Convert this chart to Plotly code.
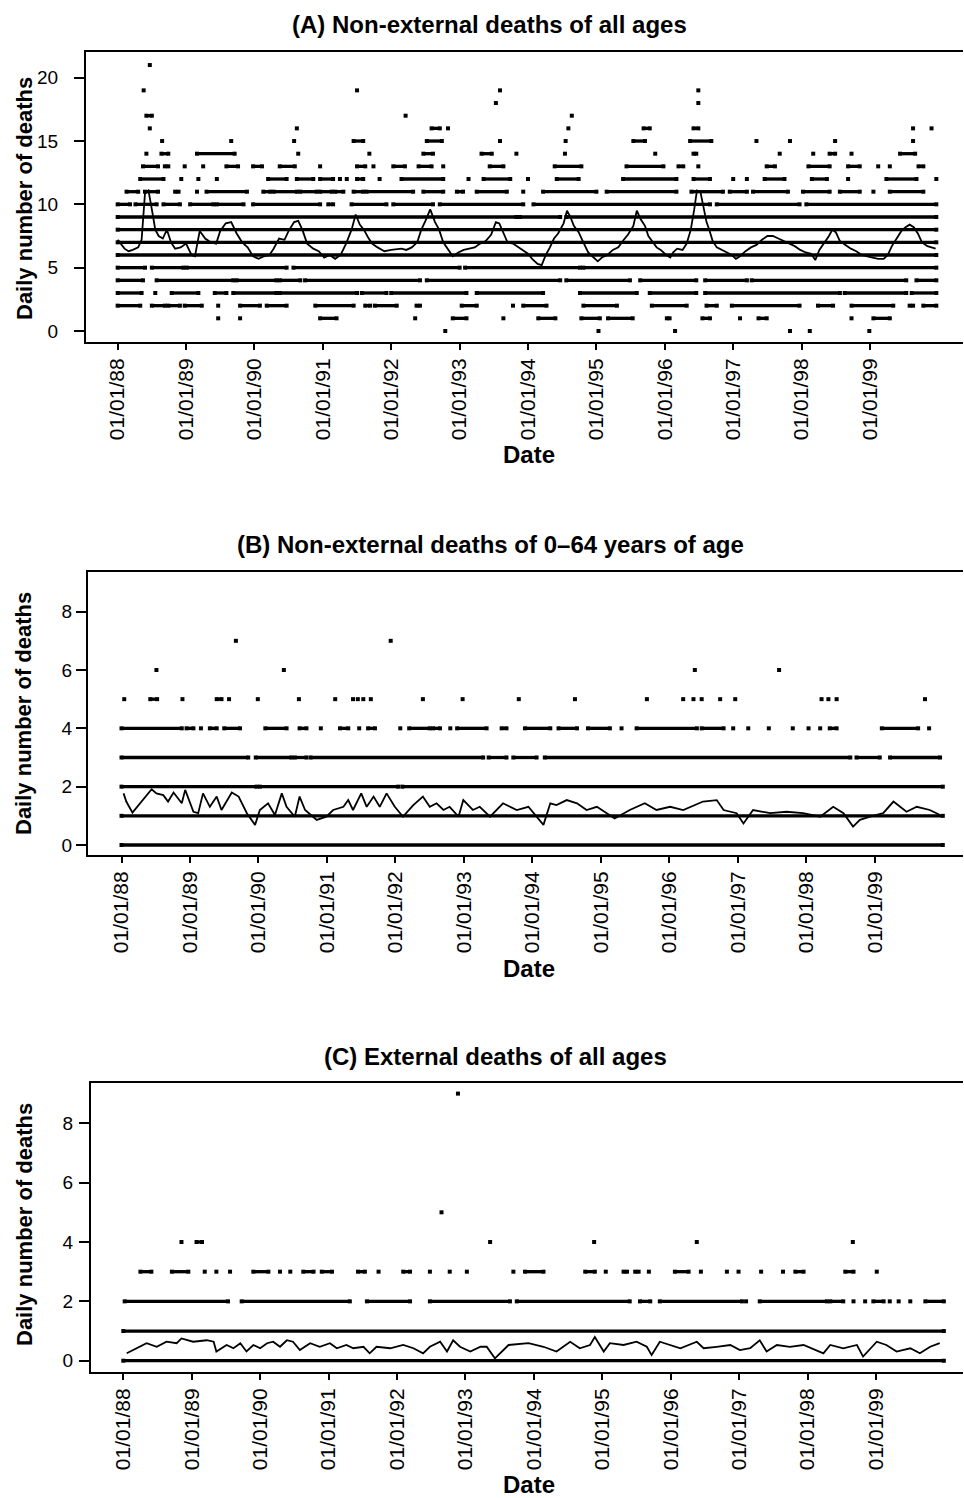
import plotly.graph_objects as go

W, H = 964, 1498

# ---------------- x axis (decimal years) ----------------
YEARS = [1988, 1989, 1990, 1991, 1992, 1993, 1994, 1995, 1996, 1997, 1998, 1999]
YEAR_LABELS = ["01/01/88", "01/01/89", "01/01/90", "01/01/91", "01/01/92", "01/01/93",
               "01/01/94", "01/01/95", "01/01/96", "01/01/97", "01/01/98", "01/01/99"]

# ---------------- Panel A: daily counts (runs of days (start,end) or single days) ----------------
A_0 = [1992.79, 1995.03, 1996.15, 1997.83, 1998.12, 1998.99]
A_1 = [1989.47, 1989.79, (1990.96, 1991.20), 1992.35, (1992.90, 1993.10), 1993.64, (1994.15, 1994.40),
       (1994.78, 1995.05), (1995.17, 1995.53), (1996.03, 1996.07), (1996.55, 1996.66), 1997.10,
       (1997.37, 1997.49), 1998.73, (1999.05, 1999.29)]
A_2 = [(1988.00, 1988.33), (1988.50, 1988.69), (1988.74, 1988.91), (1988.98, 1989.23), 1989.47,
       (1989.79, 1990.08), (1990.18, 1990.47), (1990.89, 1991.45), (1991.62, 1991.69), (1991.76, 1992.08),
       (1992.37, 1992.42), (1993.03, 1993.25), 1993.78, (1993.93, 1994.27), (1994.81, 1995.30),
       (1995.81, 1996.32), (1996.61, 1996.76), (1996.98, 1997.97), (1998.24, 1998.46), (1998.73, 1999.34),
       (1999.58, 1999.63), (1999.78, 1999.97)]
A_3 = [(1988.00, 1988.35), 1988.55, (1988.79, 1989.18), (1989.42, 1989.59), (1989.69, 1990.32),
       (1990.37, 1991.50), (1991.57, 1991.93), (1992.00, 1993.10), (1993.25, 1994.22), (1994.76, 1995.59),
       (1995.78, 1996.46), (1996.59, 1998.56), (1998.63, 1999.53), (1999.61, 1999.97)]
A_4 = [(1988.00, 1988.37), (1988.57, 1989.69), (1989.74, 1990.32), (1990.37, 1990.67), (1990.74, 1992.42),
       (1992.52, 1994.47), (1994.56, 1995.49), (1995.64, 1996.46), (1996.59, 1997.20), (1997.27, 1999.53),
       (1999.68, 1999.97)]
A_5 = [(1988.00, 1988.40), (1988.50, 1988.96), (1989.01, 1990.47), (1990.57, 1993.00), (1993.08, 1994.76),
       (1994.81, 1999.97)]
A_6 = [(1988.00, 1999.97)]
A_7 = [(1988.00, 1999.97)]
A_8 = [(1988.00, 1999.97)]
A_9 = [(1988.00, 1993.83), (1993.88, 1994.47), (1994.56, 1999.97)]
A_10 = [(1988.00, 1988.18), (1988.26, 1988.57), (1988.67, 1988.91), (1989.06, 1989.40), (1989.45, 1989.84),
        (1989.98, 1990.96), (1991.08, 1991.15), (1991.42, 1991.93), (1992.03, 1992.61), (1992.71, 1993.93),
        (1994.08, 1996.66), (1996.76, 1997.97), (1998.07, 1999.97)]
A_11 = [(1988.13, 1988.30), (1988.40, 1988.59), (1988.84, 1988.89), 1989.16, (1989.30, 1989.89),
        (1990.13, 1990.23), (1990.28, 1990.62), (1990.67, 1990.91), (1990.96, 1991.13), (1991.18, 1991.30),
        (1991.45, 1991.59), (1991.64, 1992.32), (1992.47, 1992.76), (1992.96, 1993.05), (1993.25, 1993.69),
        1993.93, (1994.22, 1995.00), (1995.15, 1996.17), (1996.39, 1996.85), (1996.95, 1997.20),
        (1997.29, 1997.80), (1998.02, 1998.41), (1998.56, 1998.85), 1999.05, (1999.29, 1999.78)]
A_12 = [(1988.33, 1988.67), 1988.93, 1989.18, 1989.45, (1990.20, 1990.47), (1990.62, 1990.86),
        (1990.96, 1991.15), 1991.25, 1991.35, (1991.50, 1991.59), 1991.83, (1992.15, 1992.76), 1993.13,
        (1993.35, 1993.74), 1994.00, (1994.42, 1994.74), (1995.39, 1996.17), (1996.42, 1996.66), 1997.00,
        1997.20, (1997.46, 1997.75), (1998.15, 1998.37), 1998.68, (1999.24, 1999.68), 1999.97]
A_13 = [(1988.37, 1988.59), (1988.69, 1988.74), 1988.98, 1989.25, (1989.59, 1989.76), (1989.98, 1990.11),
        (1990.37, 1990.59), 1990.96, (1991.50, 1991.62), 1991.74, (1992.03, 1992.20), (1992.40, 1992.59),
        1992.76, (1993.44, 1993.64), (1994.39, 1994.78), (1995.44, 1995.98), (1996.20, 1996.27), 1996.49,
        (1997.49, 1997.61), (1998.10, 1998.41), (1998.68, 1998.85), 1999.12, 1999.29, (1999.71, 1999.78)]
A_14 = [1988.42, (1988.64, 1988.74), (1989.16, 1989.71), 1990.64, 1991.68, (1992.47, 1992.61),
        (1993.32, 1993.47), 1993.83, 1994.54, 1995.86, (1996.42, 1996.46), 1997.68, 1998.17,
        (1998.41, 1998.49), 1998.73, (1999.44, 1999.66)]
A_15 = [1988.65, 1989.66, 1990.58, (1991.45, 1991.59), (1992.52, 1992.74), 1993.59, 1994.55,
        (1995.54, 1995.71), (1996.37, 1996.68), 1997.34, 1997.83, 1998.49, 1999.63]
A_16 = [1988.47, 1990.62, (1992.59, 1992.71), 1992.83, 1994.59, (1995.69, 1995.78), (1996.42, 1996.49),
        1999.63, 1999.90]
A_17 = [(1988.42, 1988.50), 1992.21, 1994.64]
A_18 = [1993.53, 1996.49]
A_19 = [1988.38, 1991.50, 1993.59, 1996.49]
A_21 = [1988.47]

# Panel A moving average (rows = years)
A_MA_T = [1988.00, 1988.10, 1988.16, 1988.22, 1988.30, 1988.35, 1988.40, 1988.45, 1988.50, 1988.55, 1988.60, 1988.66, 1988.72, 1988.78, 1988.84, 1988.92,
          1989.00, 1989.08, 1989.13, 1989.20, 1989.28, 1989.36, 1989.44, 1989.50, 1989.58, 1989.66, 1989.74, 1989.82, 1989.90, 1989.98,
          1990.06, 1990.14, 1990.22, 1990.28, 1990.36, 1990.44, 1990.50, 1990.58, 1990.64, 1990.70, 1990.77, 1990.86, 1990.94,
          1991.02, 1991.10, 1991.18, 1991.26, 1991.34, 1991.42, 1991.48, 1991.54, 1991.60, 1991.66, 1991.72, 1991.80, 1991.90,
          1992.00, 1992.10, 1992.15, 1992.22, 1992.30, 1992.38, 1992.44, 1992.50, 1992.57, 1992.64, 1992.70, 1992.76, 1992.82, 1992.90, 1992.98,
          1993.06, 1993.14, 1993.22, 1993.30, 1993.38, 1993.46, 1993.53, 1993.58, 1993.64, 1993.70, 1993.78, 1993.86, 1993.94,
          1994.00, 1994.06, 1994.14, 1994.20, 1994.26, 1994.32, 1994.38, 1994.44, 1994.52, 1994.57, 1994.62, 1994.67, 1994.74, 1994.80, 1994.88, 1994.94,
          1995.02, 1995.08, 1995.16, 1995.24, 1995.32, 1995.40, 1995.46, 1995.54, 1995.59, 1995.65, 1995.71, 1995.76, 1995.82, 1995.88, 1995.94,
          1996.02, 1996.08, 1996.12, 1996.18, 1996.26, 1996.32, 1996.38, 1996.43, 1996.47, 1996.52, 1996.57, 1996.61, 1996.65, 1996.70, 1996.76, 1996.84, 1996.92, 1996.98,
          1997.04, 1997.10, 1997.18, 1997.26, 1997.34, 1997.42, 1997.50, 1997.58, 1997.66, 1997.74, 1997.82, 1997.90, 1997.98,
          1998.06, 1998.14, 1998.20, 1998.26, 1998.34, 1998.40, 1998.45, 1998.50, 1998.56, 1998.64, 1998.72, 1998.80, 1998.88, 1998.96,
          1999.04, 1999.12, 1999.20, 1999.26, 1999.32, 1999.38, 1999.46, 1999.52, 1999.58, 1999.64, 1999.70, 1999.76, 1999.84, 1999.90, 1999.96]
A_MA_V = [7.2, 6.5, 6.3, 6.4, 6.6, 7.2, 10.9, 11.1, 9.6, 8.0, 7.5, 7.3, 8.0, 7.0, 6.5, 6.6,
          6.9, 6.0, 5.9, 7.9, 7.3, 7.0, 6.9, 7.9, 8.5, 8.6, 7.7, 7.0, 6.6, 5.9,
          5.7, 5.9, 6.0, 6.5, 7.3, 7.2, 7.9, 8.6, 8.7, 8.0, 6.9, 6.5, 6.3,
          5.8, 6.0, 5.7, 6.0, 6.9, 8.0, 9.2, 8.4, 8.0, 7.4, 6.9, 6.6, 6.3,
          6.4, 6.5, 6.5, 6.4, 6.6, 7.0, 8.0, 8.7, 9.6, 8.6, 8.0, 7.0, 6.5, 5.9, 6.2,
          6.4, 6.5, 6.6, 6.9, 7.1, 7.6, 8.6, 8.5, 7.7, 7.0, 6.9, 6.6, 6.3,
          6.1, 5.7, 5.3, 5.2, 6.0, 6.6, 7.3, 7.7, 8.5, 9.5, 9.0, 8.3, 7.8, 7.1, 6.2, 5.9,
          5.5, 5.8, 6.0, 6.4, 6.6, 7.2, 7.6, 8.3, 9.5, 8.8, 8.3, 7.5, 7.0, 6.6, 6.4,
          6.0, 5.8, 6.2, 6.5, 6.4, 6.9, 8.0, 9.6, 11.1, 11.0, 9.5, 8.6, 8.0, 7.1, 6.6, 6.4, 6.2, 6.0,
          5.7, 5.9, 6.3, 6.6, 6.8, 7.2, 7.5, 7.5, 7.3, 7.1, 6.9, 6.7, 6.4,
          6.2, 6.1, 5.6, 6.4, 7.0, 7.5, 8.0, 7.8, 7.1, 6.8, 6.5, 6.3, 6.0, 5.9,
          5.8, 5.7, 5.7, 6.0, 6.7, 7.2, 7.9, 8.2, 8.4, 8.2, 7.7, 7.0, 6.7, 6.6, 6.5]

# ---------------- Panel B ----------------
B_0 = [(1988.00, 1999.99)]
B_1 = [(1988.00, 1999.99)]
B_2 = [(1988.00, 1989.97), (1990.02, 1992.04), (1992.10, 1999.99)]
B_3 = [(1988.00, 1989.85), (1989.96, 1990.48), (1990.53, 1990.70), (1990.76, 1993.28), (1993.36, 1993.62),
       (1993.72, 1994.06), (1994.18, 1998.64), (1998.73, 1999.07), (1999.22, 1999.95)]
B_4 = [(1988.00, 1988.88), (1988.95, 1989.05), 1989.16, (1989.29, 1989.39), (1989.50, 1989.73),
       (1990.10, 1990.41), (1990.60, 1990.70), 1990.91, (1991.19, 1991.31), 1991.47, (1991.60, 1991.70),
       1992.07, (1992.20, 1992.50), (1992.55, 1992.65), 1992.80, (1992.90, 1993.33), (1993.55, 1993.62),
       (1993.89, 1994.26), (1994.38, 1994.65), (1994.81, 1995.13), 1995.30, (1995.52, 1996.40),
       (1996.47, 1996.79), 1996.93, 1997.15, 1997.45, 1997.80, 1998.03, 1998.20, (1998.34, 1998.44),
       (1999.10, 1999.63), 1999.79]
B_5 = [1988.04, (1988.42, 1988.52), 1988.89, (1989.39, 1989.46), 1989.57, 1989.99, 1990.59, 1991.12,
       1991.38, 1991.45, 1991.53, 1991.64, 1992.40, 1992.98, 1993.80, 1994.62, 1995.67, 1996.20, 1996.35,
       1996.47, 1996.74, 1996.96, 1998.22, 1998.32, 1998.44, 1999.73]
B_6 = [1988.51, 1990.37, 1996.37, 1997.60]
B_7 = [1989.67, 1991.93]

B_MA_T = [1988.03, 1988.07, 1988.16, 1988.44, 1988.51, 1988.61, 1988.68, 1988.76, 1988.88, 1988.93,
          1989.05, 1989.12, 1989.19, 1989.29, 1989.39, 1989.46, 1989.61, 1989.71, 1989.83, 1989.95,
          1990.02, 1990.14, 1990.24, 1990.34, 1990.41, 1990.53, 1990.60, 1990.68, 1990.85, 1990.99,
          1991.09, 1991.24, 1991.31, 1991.38, 1991.50, 1991.58, 1991.68, 1991.77, 1991.87, 1991.99,
          1992.11, 1992.26, 1992.40, 1992.50, 1992.60, 1992.70, 1992.79, 1992.92, 1992.99,
          1993.13, 1993.23, 1993.38, 1993.57, 1993.77, 1993.94,
          1994.16, 1994.26, 1994.35, 1994.50, 1994.65, 1994.79, 1994.94,
          1995.20, 1995.42, 1995.64, 1995.81,
          1996.01, 1996.20, 1996.49, 1996.69, 1996.79, 1996.98,
          1997.08, 1997.22, 1997.47, 1997.71, 1997.95,
          1998.20, 1998.39, 1998.54, 1998.68, 1998.78, 1998.93,
          1999.12, 1999.27, 1999.37, 1999.46, 1999.61, 1999.80, 1999.95]
B_MA_V = [1.77, 1.49, 1.11, 1.91, 1.77, 1.71, 1.49, 1.80, 1.43, 1.89,
          1.14, 1.09, 1.77, 1.31, 1.66, 1.20, 1.80, 1.66, 1.09, 0.69,
          1.20, 1.43, 1.03, 1.77, 1.31, 0.97, 1.66, 1.20, 0.86, 0.97,
          1.20, 1.31, 1.54, 1.20, 1.77, 1.31, 1.66, 1.31, 1.77, 1.31,
          0.97, 1.37, 1.66, 1.31, 1.43, 1.20, 1.31, 0.97, 1.54,
          1.20, 1.31, 0.97, 1.43, 1.20, 1.31,
          0.69, 1.43, 1.37, 1.54, 1.43, 1.20, 1.31,
          0.91, 1.20, 1.43, 1.20,
          1.31, 1.20, 1.49, 1.54, 1.20, 1.09,
          0.74, 1.20, 1.09, 1.14, 1.09,
          0.97, 1.31, 1.09, 0.63, 0.86, 0.97,
          1.09, 1.49, 1.31, 1.14, 1.31, 1.20, 1.03]

# ---------------- Panel C ----------------
C_0 = [(1988.00, 1999.99)]
C_1 = [(1988.00, 1999.99)]
C_2 = [(1988.02, 1989.53), (1989.73, 1991.31), (1991.56, 1992.19), (1992.48, 1993.65), (1993.75, 1995.40),
       (1995.55, 1995.70), (1995.84, 1997.04), 1997.10, (1997.30, 1998.28), (1998.33, 1998.52), 1998.67,
       1998.84, (1998.96, 1999.11), 1999.20, 1999.33, 1999.50, (1999.72, 1999.99)]
C_3 = [(1988.25, 1988.41), (1988.71, 1988.95), 1989.19, 1989.36, 1989.56, (1989.90, 1990.12), 1990.29,
       1990.44, (1990.63, 1990.78), (1990.90, 1991.05), (1991.43, 1991.53), 1991.73, (1992.09, 1992.19),
       1992.48, 1992.77, 1993.02, 1993.70, (1993.87, 1994.14), (1994.75, 1994.89), 1995.05,
       (1995.31, 1995.36), (1995.48, 1995.53), 1995.68, (1996.06, 1996.26), 1996.44, 1996.82, 1996.99,
       1997.32, 1997.64, (1997.82, 1997.94), (1998.55, 1998.67), 1999.01]
C_4 = [1988.85, (1989.07, 1989.15), 1993.36, 1994.88, 1996.38, 1998.66]
C_5 = [1992.65]
C_9 = [1992.89]

C_MA_T = [1988.05, 1988.20, 1988.34, 1988.49, 1988.63, 1988.78, 1988.85,
          1989.02, 1989.22, 1989.32, 1989.36, 1989.51, 1989.61, 1989.71, 1989.80, 1989.90,
          1990.00, 1990.10, 1990.19, 1990.29, 1990.39, 1990.48, 1990.58, 1990.73, 1990.87,
          1991.02, 1991.12, 1991.26, 1991.36, 1991.51, 1991.60, 1991.70, 1991.90,
          1992.09, 1992.24, 1992.38, 1992.48, 1992.63, 1992.73, 1992.82, 1992.92,
          1993.07, 1993.22, 1993.31, 1993.43, 1993.63, 1993.92,
          1994.14, 1994.33, 1994.53, 1994.67, 1994.82, 1994.89,
          1995.02, 1995.11, 1995.31, 1995.50, 1995.65, 1995.72, 1995.84, 1995.99,
          1996.14, 1996.38, 1996.48, 1996.67, 1996.87,
          1997.01, 1997.16, 1997.30, 1997.40, 1997.55, 1997.74, 1997.94,
          1998.13, 1998.23, 1998.33, 1998.52, 1998.72, 1998.81,
          1999.01, 1999.15, 1999.30, 1999.50, 1999.64, 1999.79, 1999.93]
C_MA_V = [0.25, 0.42, 0.59, 0.47, 0.64, 0.59, 0.75,
          0.64, 0.69, 0.64, 0.31, 0.53, 0.42, 0.59, 0.31, 0.53,
          0.42, 0.59, 0.64, 0.47, 0.69, 0.64, 0.36, 0.59, 0.47,
          0.59, 0.42, 0.53, 0.42, 0.47, 0.25, 0.47, 0.42,
          0.53, 0.42, 0.25, 0.47, 0.64, 0.31, 0.69, 0.47,
          0.31, 0.47, 0.47, 0.08, 0.53, 0.59,
          0.47, 0.31, 0.64, 0.42, 0.53, 0.80,
          0.31, 0.59, 0.53, 0.64, 0.47, 0.19, 0.64, 0.53,
          0.42, 0.64, 0.42, 0.47, 0.53,
          0.36, 0.42, 0.69, 0.31, 0.53, 0.47, 0.53,
          0.36, 0.25, 0.53, 0.42, 0.53, 0.14,
          0.64, 0.53, 0.31, 0.42, 0.25, 0.47, 0.59]

A_LEVELS = {0: A_0, 1: A_1, 2: A_2, 3: A_3, 4: A_4, 5: A_5, 6: A_6, 7: A_7, 8: A_8, 9: A_9,
            10: A_10, 11: A_11, 12: A_12, 13: A_13, 14: A_14, 15: A_15, 16: A_16, 17: A_17,
            18: A_18, 19: A_19, 21: A_21}
B_LEVELS = {0: B_0, 1: B_1, 2: B_2, 3: B_3, 4: B_4, 5: B_5, 6: B_6, 7: B_7}
C_LEVELS = {0: C_0, 1: C_1, 2: C_2, 3: C_3, 4: C_4, 5: C_5, 9: C_9}


def runs_xy(levels):
    xs, ys = [], []
    for lvl, runs in levels.items():
        for r in runs:
            if isinstance(r, tuple):
                xs += [r[0], r[1], None]
                ys += [lvl, lvl, None]
            else:
                xs += [r, None]
                ys += [lvl, None]
    return xs, ys


def px_x(p):
    return p / W


def px_y(p):
    return 1 - p / H


FONT = "Liberation Sans, Arial, Helvetica, sans-serif"

fig = go.Figure()

panels = [
    ("x", "y", A_LEVELS, A_MA_T, A_MA_V),
    ("x2", "y2", B_LEVELS, B_MA_T, B_MA_V),
    ("x3", "y3", C_LEVELS, C_MA_T, C_MA_V),
]
for xa, ya, levels, mt, mv in panels:
    xs, ys = runs_xy(levels)
    fig.add_trace(go.Scatter(x=xs, y=ys, xaxis=xa, yaxis=ya, mode="lines+markers",
                             line=dict(color="black", width=3.3),
                             marker=dict(symbol="square", size=4, color="black"),
                             hoverinfo="skip", showlegend=False, connectgaps=False))
    fig.add_trace(go.Scatter(x=mt, y=mv, xaxis=xa, yaxis=ya, mode="lines",
                             line=dict(color="black", width=1.8),
                             showlegend=False))

# axis geometry (pixels in the 964x1498 canvas)
AX = [
    # left, right, top, bottom, xrange, yrange, yticks, ytick label standoff
    (86, 963, 52, 342, [1987.537, 2000.36], [-0.87, 22.03], [0, 5, 10, 15, 20], 12),
    (88, 963, 572, 855, [1987.511, 2000.285], [-0.343, 9.36], [0, 2, 4, 6, 8], 0),
    (91, 963, 1083, 1372, [1987.528, 2000.27], [-0.38, 9.357], [0, 2, 4, 6, 8], 2),
]

layout = dict(width=W, height=H, margin=dict(l=0, r=0, t=0, b=0),
              paper_bgcolor="white", plot_bgcolor="white", showlegend=False,
              font=dict(family=FONT, color="black"))

for i, (l, r, t, b, xr, yr, yt, ystand) in enumerate(AX):
    sx = "" if i == 0 else str(i + 1)
    layout["xaxis" + sx] = dict(
        domain=[px_x(l), px_x(r)], range=xr, anchor="y" + sx,
        tickmode="array", tickvals=YEARS, ticktext=YEAR_LABELS, tickangle=-90,
        ticks="outside", ticklen=6, tickwidth=1.5, tickcolor="black",
        showline=True, linecolor="black", linewidth=2, mirror=True,
        showgrid=False, zeroline=False, ticklabelstandoff=0,
        tickfont=dict(family=FONT, size=21, color="black"))
    layout["yaxis" + sx] = dict(
        domain=[px_y(b), px_y(t)], range=yr, anchor="x" + sx,
        tickmode="array", tickvals=yt,
        ticks="outside", ticklen=10, tickwidth=1.5, tickcolor="black",
        showline=True, linecolor="black", linewidth=2, mirror=False,
        showgrid=False, zeroline=False, ticklabelstandoff=ystand,
        tickfont=dict(family=FONT, size=19, color="black"))

TITLES = ["(A) Non-external deaths of all ages",
          "(B) Non-external deaths of 0\u201364 years of age",
          "(C) External deaths of all ages"]
TITLE_POS = [(489, 25), (491, 545), (496, 1056)]
YTITLE_Y = [199, 714, 1225]
DATE_Y = [455, 968, 1484]

ann = []
for i in range(3):
    ann.append(dict(text="<b>" + TITLES[i] + "</b>", x=px_x(TITLE_POS[i][0]), y=px_y(TITLE_POS[i][1]),
                    xref="paper", yref="paper", xanchor="center", yanchor="middle", showarrow=False,
                    font=dict(family=FONT, size=24, color="black")))
    ann.append(dict(text="<b>Daily number of deaths</b>", x=px_x(24), y=px_y(YTITLE_Y[i]),
                    xref="paper", yref="paper", xanchor="center", yanchor="middle", showarrow=False,
                    textangle=-90, font=dict(family=FONT, size=22, color="black")))
    ann.append(dict(text="<b>Date</b>", x=px_x(529), y=px_y(DATE_Y[i]),
                    xref="paper", yref="paper", xanchor="center", yanchor="middle", showarrow=False,
                    font=dict(family=FONT, size=24, color="black")))
layout["annotations"] = ann

fig.update_layout(**layout)
fig.write_html("out.html", config={"displayModeBar": False},
               post_script="document.body.style.margin='0';document.body.style.overflow='hidden';")
